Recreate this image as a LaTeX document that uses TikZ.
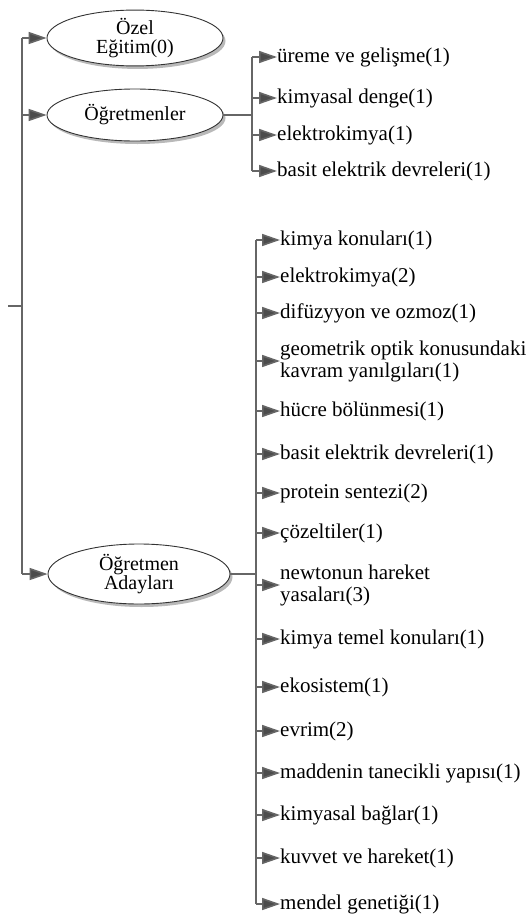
\documentclass[tikz,border=0pt]{standalone}
\usepackage{fontspec}
\setmainfont{Liberation Serif}
\usetikzlibrary{arrows.meta,shapes.geometric,shadows}
\tikzset{>={Triangle[length=18pt,width=12pt,fill=black!70]}}
\tikzset{
  grup/.style={ellipse, draw=black!80, line width=0.9pt, fill=white, minimum width=176pt, minimum height=52pt,
    inner sep=0pt, align=center, font=\fontsize{20}{19}\selectfont,
    drop shadow={shadow xshift=2.5pt, shadow yshift=-3pt, fill=black!55}},
  dal/.style={draw=black!60, line width=1.6pt},
  konu/.style={anchor=west, inner sep=0pt, align=left, font=\fontsize{21}{22}\selectfont},
}

\begin{document}
\begin{tikzpicture}[x=1pt, y=-1pt]
\useasboundingbox (0,0) rectangle (531,918);

% groups
\node[grup] (g-1) at (135,38) {Özel\\Eğitim(0)};
\node[grup] (g-2) at (135,115) {Öğretmenler};
\node[grup, minimum width=182pt, minimum height=60pt] (g-3) at (139,574) {Öğretmen\\Adayları};

\coordinate (kok) at (8,306);
\coordinate (sol) at (22,306);
\draw[dal] (kok) -- (sol);
\draw[dal] (sol |- g-1) -- (sol |- g-3);
\draw[dal, ->] (sol |- g-1) -- (g-1.west);
\draw[dal, ->] (sol |- g-2) -- (g-2.west);
\draw[dal, ->] (sol |- g-3) -- (g-3.west);

% Öğretmenler
\node[konu] (a-1) at (277,57) {üreme ve gelişme(1)};
\node[konu] (a-2) at (277,98) {kimyasal denge(1)};
\node[konu] (a-3) at (277,135) {elektrokimya(1)};
\node[konu] (a-4) at (277,171) {basit elektrik devreleri(1)};

\coordinate (da) at (252,115);
\draw[dal] (g-2.east) -- (da);
\draw[dal] (da |- a-1.west) -- (da |- a-4.west);
\draw[dal, ->] (da |- a-1.west) -- (a-1.west);
\draw[dal, ->] (da |- a-2.west) -- (a-2.west);
\draw[dal, ->] (da |- a-3.west) -- (a-3.west);
\draw[dal, ->] (da |- a-4.west) -- (a-4.west);

% Öğretmen Adayları
\node[konu] (b-1) at (280,240) {kimya konuları(1)};
\node[konu] (b-2) at (280,277) {elektrokimya(2)};
\node[konu] (b-3) at (280,313) {difüzyyon ve ozmoz(1)};
\node[konu] (b-4) at (280,361) {geometrik optik konusundaki\\kavram yanılgıları(1)};
\node[konu] (b-5) at (280,411) {hücre bölünmesi(1)};
\node[konu] (b-6) at (280,454) {basit elektrik devreleri(1)};
\node[konu] (b-7) at (280,493) {protein sentezi(2)};
\node[konu] (b-8) at (280,533) {çözeltiler(1)};
\node[konu] (b-9) at (280,585) {newtonun hareket\\yasaları(3)};
\node[konu] (b-10) at (280,639) {kimya temel konuları(1)};
\node[konu] (b-11) at (280,687) {ekosistem(1)};
\node[konu] (b-12) at (280,731) {evrim(2)};
\node[konu] (b-13) at (280,773) {maddenin tanecikli yapısı(1)};
\node[konu] (b-14) at (280,815) {kimyasal bağlar(1)};
\node[konu] (b-15) at (280,858) {kuvvet ve hareket(1)};
\node[konu] (b-16) at (280,904) {mendel genetiği(1)};

\coordinate (db) at (256,574);
\draw[dal] (g-3.east) -- (db);
\draw[dal] (db |- b-1.west) -- (db |- b-16.west);
\draw[dal, ->] (db |- b-1.west) -- (b-1.west);
\draw[dal, ->] (db |- b-2.west) -- (b-2.west);
\draw[dal, ->] (db |- b-3.west) -- (b-3.west);
\draw[dal, ->] (db |- b-4.west) -- (b-4.west);
\draw[dal, ->] (db |- b-5.west) -- (b-5.west);
\draw[dal, ->] (db |- b-6.west) -- (b-6.west);
\draw[dal, ->] (db |- b-7.west) -- (b-7.west);
\draw[dal, ->] (db |- b-8.west) -- (b-8.west);
\draw[dal, ->] (db |- b-9.west) -- (b-9.west);
\draw[dal, ->] (db |- b-10.west) -- (b-10.west);
\draw[dal, ->] (db |- b-11.west) -- (b-11.west);
\draw[dal, ->] (db |- b-12.west) -- (b-12.west);
\draw[dal, ->] (db |- b-13.west) -- (b-13.west);
\draw[dal, ->] (db |- b-14.west) -- (b-14.west);
\draw[dal, ->] (db |- b-15.west) -- (b-15.west);
\draw[dal, ->] (db |- b-16.west) -- (b-16.west);
\end{tikzpicture}
\end{document}
